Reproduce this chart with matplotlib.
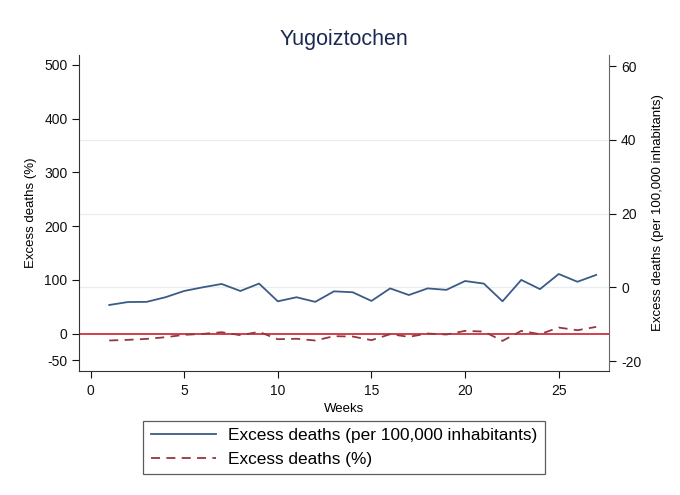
import matplotlib
matplotlib.use('Agg')
import matplotlib.pyplot as plt

plt.rcParams.update({
    'font.family': ['Liberation Sans', 'DejaVu Sans'],
    'font.size': 10,
    'axes.unicode_minus': False,
})

weeks = list(range(1, 28))
# excess deaths per 100,000 inhabitants (right axis)
per_100k = [-4.8, -4.0, -3.95, -2.7, -1.0, 0.0, 0.9, -1.0, 1.0, -3.8,
            -2.7, -3.95, -1.1, -1.35, -3.7, -0.3, -2.1, -0.3, -0.7, 1.7,
            1.0, -3.8, 2.0, -0.5, 3.6, 1.5, 3.35]
# excess deaths in % (left axis)
pct = [-13.0, -11.8, -10.0, -6.9, -2.5, -0.7, 2.4, -3.1, 3.0, -10.6,
       -9.8, -13.0, -5.0, -5.6, -12.4, -1.3, -6.2, 0.0, -1.9, 4.9,
       3.6, -13.7, 4.9, -1.3, 11.1, 6.1, 12.3]

left_ticks = [-50, 0, 100, 200, 300, 400, 500]
right_ticks = [-20, 0, 20, 40, 60]
right_grid = [0, 20, 40]
x_ticks = [0, 5, 10, 15, 20, 25]

BLUE = '#3b5b86'
MAROON = '#93383f'
RED = '#c8202f'
GRID = '#e6eef1'

fig = plt.figure(figsize=(6.8, 4.95), dpi=100)
ax = fig.add_axes([0.1166, 0.2505, 0.7794, 0.6385])
ax2 = ax.twinx()
# keep the left axis (and its spine) above the right-axis gridlines
ax2.set_zorder(0)
ax.set_zorder(1)

for g in right_grid:
    ax2.axhline(g, color=GRID, lw=0.9, zorder=0)

ax.axhline(0, color=RED, lw=1.2, zorder=2)
l_pct, = ax.plot(weeks, pct, color=MAROON, lw=1.3, linestyle=(0, (5, 3.5)),
                 zorder=3, label='Excess deaths (%)')
l_100k, = ax2.plot(weeks, per_100k, color=BLUE, lw=1.3, zorder=3,
                   label='Excess deaths (per 100,000 inhabitants)')

ax.set_xlim(-0.6, 27.7)
ax.set_ylim(-69.8, 518.5)
ax2.set_ylim(-22.7, 63)
ax.set_xticks(x_ticks)
ax.set_yticks(left_ticks)
ax2.set_yticks(right_ticks)

for a in (ax, ax2):
    a.spines['top'].set_visible(False)
    a.tick_params(direction='out', length=5, width=0.8, labelsize=10, colors='#111111')
    a.patch.set_visible(False)
ax.spines['right'].set_visible(False)
ax2.spines['left'].set_visible(False)
ax2.spines['bottom'].set_visible(False)
ax.spines['left'].set_color('#333333')
ax.spines['bottom'].set_color('#333333')
ax2.spines['right'].set_color('#666666')
ax.tick_params(axis='x', pad=4)

ax.set_xlabel('Weeks', fontsize=9.5, labelpad=4)
ax.set_ylabel('Excess deaths (%)', fontsize=9.5, labelpad=5)
ax2.set_ylabel('Excess deaths (per 100,000 inhabitants)', fontsize=9.5, labelpad=8)

fig.text(0.506, 0.921, 'Yugoiztochen', ha='center', va='center',
         fontsize=15.5, color='#1c2a52')

leg = fig.legend(handles=[l_100k, l_pct], loc='upper center',
                 bbox_to_anchor=(0.506, 0.150), ncol=1, fontsize=12.4,
                 frameon=True, fancybox=False, handlelength=3.8,
                 borderpad=0.42, labelspacing=0.5, handletextpad=0.72,
                 borderaxespad=0)
leg.get_frame().set_edgecolor('#333333')
leg.get_frame().set_linewidth(0.9)

fig.savefig('out.png', dpi=100)
